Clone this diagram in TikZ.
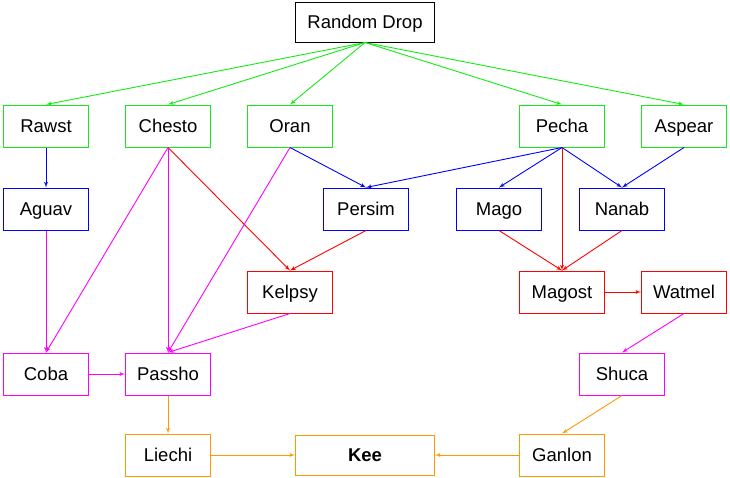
\documentclass[tikz,border=0pt]{standalone}
\usepackage{fontspec}
\setmainfont{Liberation Sans}
\usetikzlibrary{arrows}
\definecolor{dropgreen}{RGB}{20,235,20}
\definecolor{berryblue}{RGB}{0,0,255}
\definecolor{berryred}{RGB}{255,0,0}
\definecolor{berrypink}{RGB}{255,0,255}
\definecolor{berryorange}{RGB}{255,153,0}
\tikzset{berry/.style={draw, line width=1pt, minimum width=85pt, minimum height=42pt,
    inner sep=0pt, text height=13pt, text depth=0pt, font=\fontsize{18.5}{20}\selectfont}}
\tikzset{wideberry/.style={berry, minimum width=139pt, minimum height=40pt}}
\tikzset{link/.style={-latex', line width=0.9pt}}

\begin{document}
\begin{tikzpicture}[x=1pt,y=-1pt]
  \useasboundingbox (0,0) rectangle (730,477);
  \node[wideberry] (drop) at (365,22) {Random Drop};
  \node[wideberry,draw=berryorange] (Kee) at (365,455) {\bfseries Kee};
  \foreach \n/\x/\y/\c in {Rawst/46/126/dropgreen, Chesto/168/126/dropgreen,
      Oran/290/126/dropgreen, Pecha/562/126/dropgreen, Aspear/684/126/dropgreen,
      Aguav/46/209/berryblue, Persim/366/209/berryblue, Mago/499/209/berryblue,
      Nanab/622/209/berryblue, Kelpsy/290/292/berryred, Magost/562/292/berryred,
      Watmel/684/292/berryred, Coba/46/374/berrypink, Passho/168/374/berrypink,
      Shuca/622/374/berrypink, Liechi/168/455/berryorange, Ganlon/562/455/berryorange}
  \node[berry,draw=\c] (\n) at (\x,\y) {\n};
  % random drops
  \foreach \b in {Rawst,Chesto,Oran,Pecha,Aspear}
  \draw[link,dropgreen] (drop.south) -- (\b.north);
  % tree
  \foreach \a/\b in {Rawst/Aguav, Oran/Persim, Pecha/Persim, Pecha/Mago, Pecha/Nanab, Aspear/Nanab}
  \draw[link,berryblue] (\a.south) -- (\b.north);
  \foreach \a/\b in {Chesto/Kelpsy, Persim/Kelpsy, Pecha/Magost, Mago/Magost, Nanab/Magost}
  \draw[link,berryred] (\a.south) -- (\b.north);
  \foreach \a/\b in {Aguav/Coba, Chesto/Coba, Chesto/Passho, Oran/Passho, Kelpsy/Passho, Watmel/Shuca}
  \draw[link,berrypink] (\a.south) -- (\b.north);
  \foreach \a/\b in {Passho/Liechi, Shuca/Ganlon}
  \draw[link,berryorange] (\a.south) -- (\b.north);
  % side links
  \draw[link,berryred] (Magost.east) -- (Watmel.west);
  \draw[link,berrypink] (Coba.east) -- (Passho.west);
  \draw[link,berryorange] (Liechi.east) -- (Kee.west);
  \draw[link,berryorange] (Ganlon.west) -- (Kee.east);
\end{tikzpicture}
\end{document}
